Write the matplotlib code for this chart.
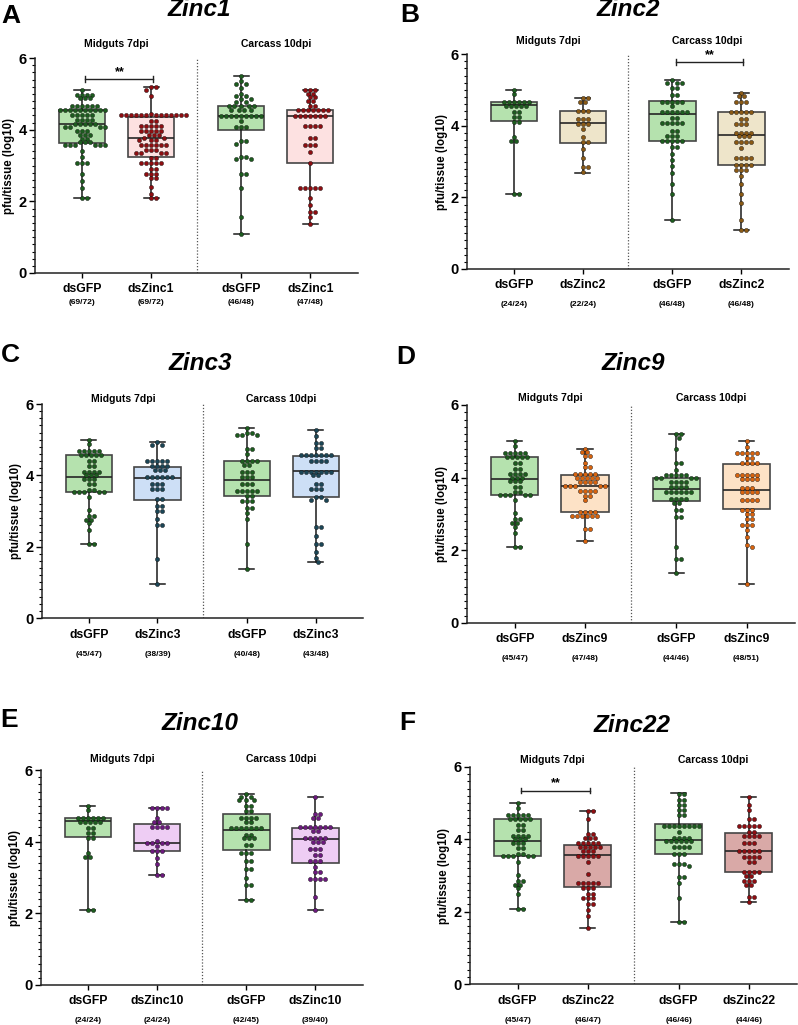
"""
Zinc knockdown panels: pfu/tissue box plots with dot overlay (A-F).
"""
import numpy as np
import matplotlib.pyplot as plt
from matplotlib.transforms import blended_transform_factory

plt.rcParams['font.family'] = ['Liberation Sans', 'DejaVu Sans']
plt.rcParams['font.weight'] = 'bold'

W, H = 798, 1025

# ---- point rows: (log10 pfu, number of dots) ----
# shared dsGFP controls
gfp_mid_45 = [(5.0, 1), (4.88, 1), (4.67, 5), (4.57, 5), (4.4, 2), (4.25, 2), (4.1, 4), (4.0, 3),
              (3.9, 3), (3.75, 2), (3.6, 2), (3.53, 5), (3.38, 1), (3.02, 1), (2.85, 2), (2.75, 2),
              (2.65, 1), (2.48, 1), (2.08, 2)]
gfp_mid_24 = [(5.0, 1), (4.88, 1), (4.67, 6), (4.56, 5), (4.38, 2), (4.23, 2), (4.1, 2), (3.68, 1),
              (3.57, 2), (2.08, 2)]

a_mid_gfp = [(5.12, 1), (4.97, 4), (4.87, 3), (4.67, 6), (4.56, 10), (4.4, 5), (4.28, 4), (4.17, 5),
             (4.08, 4), (3.95, 3), (3.85, 3), (3.75, 2), (3.65, 3), (3.56, 6), (3.4, 1), (3.25, 1),
             (3.08, 3), (2.77, 1), (2.57, 1), (2.37, 1), (2.08, 2)]
a_mid_kd = [(5.19, 2), (5.1, 1), (4.95, 1), (4.45, 1), (4.4, 13), (4.25, 2), (4.1, 5), (3.95, 5),
            (3.85, 3), (3.78, 2), (3.7, 3), (3.56, 6), (3.42, 3), (3.35, 4), (3.2, 2), (3.08, 5),
            (2.9, 2), (2.77, 3), (2.65, 2), (2.4, 1), (2.2, 1), (2.08, 2)]
a_car_gfp = [(5.49, 1), (5.35, 1), (5.28, 2), (5.15, 1), (5.0, 1), (4.93, 2), (4.85, 2), (4.78, 2),
             (4.67, 5), (4.56, 4), (4.38, 9), (4.25, 1), (4.08, 3), (3.68, 2), (3.6, 1), (3.25, 2),
             (3.18, 2), (2.77, 2), (2.37, 1), (1.55, 1), (1.08, 1)]
a_car_kd = [(5.1, 3), (5.0, 2), (4.9, 2), (4.8, 2), (4.67, 2), (4.56, 7), (4.38, 7), (4.1, 4),
            (3.78, 2), (3.56, 3), (3.38, 1), (3.08, 1), (2.37, 5), (2.08, 1), (1.9, 1), (1.7, 2),
            (1.57, 1), (1.38, 1)]

b_mid_kd = [(4.76, 2), (4.65, 2), (4.4, 3), (4.2, 3), (4.05, 3), (3.9, 1), (3.68, 1), (3.55, 2),
            (3.35, 1), (3.1, 1), (2.85, 2), (2.72, 1)]
b_car_gfp = [(5.27, 1), (5.2, 3), (5.05, 2), (4.85, 2), (4.67, 5), (4.55, 1), (4.38, 6), (4.22, 2),
             (4.08, 5), (3.85, 2), (3.7, 3), (3.57, 5), (3.4, 2), (3.22, 1), (3.05, 1), (2.87, 1),
             (2.68, 1), (2.37, 1), (2.08, 1), (1.37, 1)]
b_car_kd = [(4.92, 1), (4.82, 2), (4.67, 3), (4.38, 5), (4.2, 2), (4.05, 3), (3.8, 4), (3.7, 3),
            (3.55, 4), (3.38, 1), (3.1, 4), (2.9, 4), (2.75, 3), (2.6, 1), (2.37, 1), (2.1, 1),
            (1.85, 1), (1.37, 1), (1.08, 2)]

c_mid_kd = [(4.93, 1), (4.85, 2), (4.4, 5), (4.25, 4), (4.15, 3), (3.95, 6), (3.75, 3), (3.62, 3),
            (3.35, 2), (3.15, 2), (3.0, 2), (2.78, 1), (2.62, 2), (1.65, 1), (0.95, 1)]
c_car_gfp = [(5.33, 1), (5.2, 2), (5.12, 3), (4.75, 2), (4.6, 1), (4.4, 4), (4.3, 2), (4.1, 3),
             (3.95, 3), (3.75, 3), (3.57, 5), (3.42, 2), (3.28, 3), (3.08, 2), (2.95, 1), (2.78, 1),
             (2.08, 1), (1.37, 1)]
c_car_kd = [(5.27, 1), (5.1, 1), (4.9, 2), (4.78, 2), (4.57, 7), (4.4, 4), (4.1, 7), (4.0, 2),
            (3.75, 2), (3.62, 3), (3.38, 2), (3.3, 2), (2.55, 2), (2.3, 1), (2.08, 2), (1.85, 1),
            (1.68, 1), (1.57, 1)]

d_mid_kd = [(4.8, 1), (4.7, 2), (4.6, 2), (4.4, 1), (4.28, 2), (4.1, 5), (4.0, 5), (3.87, 4),
            (3.78, 5), (3.62, 4), (3.5, 2), (3.38, 1), (3.05, 4), (2.95, 6), (2.6, 2), (2.27, 1)]
d_car_gfp = [(5.19, 2), (5.08, 1), (4.78, 1), (4.4, 2), (4.2, 1), (4.07, 5), (4.0, 4), (3.88, 4),
             (3.75, 4), (3.6, 6), (3.4, 4), (3.3, 2), (3.1, 2), (2.93, 2), (2.1, 1), (1.75, 2),
             (1.38, 1)]
d_car_kd = [(5.0, 1), (4.85, 1), (4.67, 5), (4.55, 2), (4.4, 4), (4.08, 5), (3.95, 4), (3.72, 3),
            (3.6, 4), (3.38, 4), (3.12, 3), (3.0, 2), (2.85, 2), (2.7, 3), (2.55, 1), (2.38, 1),
            (2.15, 1), (2.08, 1), (1.08, 1)]

e_mid_kd = [(4.93, 4), (4.65, 1), (4.55, 2), (4.4, 4), (4.02, 1), (3.95, 4), (3.88, 1), (3.75, 3),
            (3.55, 1), (3.38, 1), (3.08, 2)]
e_car_gfp = [(5.32, 1), (5.25, 2), (5.15, 3), (5.0, 2), (4.85, 2), (4.67, 4), (4.55, 2), (4.38, 7),
             (4.2, 2), (4.1, 3), (3.9, 2), (3.68, 3), (3.45, 2), (3.25, 2), (3.0, 1), (2.78, 2),
             (2.37, 2)]
e_car_kd = [(5.24, 1), (4.78, 2), (4.67, 2), (4.4, 7), (4.3, 2), (4.1, 5), (4.0, 3), (3.8, 3),
            (3.62, 2), (3.45, 3), (3.3, 1), (3.15, 2), (2.95, 4), (2.45, 1), (2.08, 1)]

f_mid_kd = [(4.77, 2), (4.55, 1), (4.15, 2), (4.05, 3), (3.9, 5), (3.8, 5), (3.67, 3), (3.55, 5),
            (3.38, 1), (3.05, 1), (2.8, 5), (2.65, 3), (2.5, 2), (2.37, 3), (2.2, 2), (2.05, 1),
            (1.88, 1), (1.55, 1)]
f_car_gfp = [(5.26, 2), (5.1, 2), (4.95, 2), (4.8, 2), (4.67, 2), (4.38, 8), (4.2, 1), (4.05, 4),
             (3.95, 6), (3.8, 4), (3.6, 3), (3.32, 3), (3.25, 1), (2.95, 2), (2.8, 1), (2.37, 1),
             (1.72, 2)]
f_car_kd = [(5.17, 1), (4.95, 1), (4.8, 1), (4.57, 2), (4.38, 5), (4.2, 2), (4.08, 4), (3.9, 3),
            (3.67, 5), (3.52, 4), (3.38, 2), (3.1, 4), (3.0, 2), (2.85, 3), (2.75, 2), (2.4, 2),
            (2.27, 1)]

# ---- box stats: (min, q1, median, q3, max) ----
box_gfp_mid_45 = (2.08, 3.53, 3.95, 4.56, 5.0)
box_gfp_mid_24 = (2.08, 4.12, 4.58, 4.67, 5.0)
a_box = [(2.08, 3.63, 4.17, 4.56, 5.12), (2.08, 3.25, 3.78, 4.35, 5.2),
         (1.08, 4.0, 4.38, 4.67, 5.5), (1.37, 3.08, 4.38, 4.55, 5.1)]
b_box = [box_gfp_mid_24, (2.68, 3.53, 4.08, 4.42, 4.78),
         (1.38, 3.58, 4.32, 4.7, 5.28), (1.08, 2.9, 3.73, 4.38, 4.92)]
c_box = [box_gfp_mid_45, (0.95, 3.3, 3.92, 4.23, 4.93),
         (1.37, 3.43, 3.86, 4.4, 5.33), (1.56, 3.4, 4.12, 4.55, 5.27)]
d_box = [box_gfp_mid_45, (2.27, 3.06, 3.78, 4.07, 4.8),
         (1.38, 3.35, 3.7, 4.0, 5.19), (1.08, 3.13, 3.66, 4.38, 5.0)]
e_box = [box_gfp_mid_24, (3.08, 3.74, 3.95, 4.5, 4.93),
         (2.37, 3.78, 4.33, 4.78, 5.32), (2.08, 3.4, 4.08, 4.38, 5.24)]
f_box = [box_gfp_mid_45, (1.55, 2.68, 3.57, 3.83, 4.77),
         (1.72, 3.6, 3.97, 4.42, 5.27), (2.27, 3.1, 3.67, 4.17, 5.17)]

genes = ['Zinc1', 'Zinc2', 'Zinc3', 'Zinc9', 'Zinc10', 'Zinc22']
letters = ['A', 'B', 'C', 'D', 'E', 'F']
counts = [['(69/72)', '(69/72)', '(46/48)', '(47/48)'],
          ['(24/24)', '(22/24)', '(46/48)', '(46/48)'],
          ['(45/47)', '(38/39)', '(40/48)', '(43/48)'],
          ['(45/47)', '(47/48)', '(44/46)', '(48/51)'],
          ['(24/24)', '(24/24)', '(42/45)', '(39/40)'],
          ['(45/47)', '(46/47)', '(46/46)', '(44/46)']]
points = [[a_mid_gfp, a_mid_kd, a_car_gfp, a_car_kd],
          [gfp_mid_24, b_mid_kd, b_car_gfp, b_car_kd],
          [gfp_mid_45, c_mid_kd, c_car_gfp, c_car_kd],
          [gfp_mid_45, d_mid_kd, d_car_gfp, d_car_kd],
          [gfp_mid_24, e_mid_kd, e_car_gfp, e_car_kd],
          [gfp_mid_45, f_mid_kd, f_car_gfp, f_car_kd]]
boxes = [a_box, b_box, c_box, d_box, e_box, f_box]
# significance bars: (group i, group j, height) or None
signif = [(0, 1, 5.41), (2, 3, 5.77), None, None, None, (0, 1, 5.35)]

# ---- styling / layout ----
positions = [0.0, 1.0, 2.3, 3.3]
xlim = (-0.68, 3.99)
divider_x = 1.655
green_fill, green_dot = '#b5e2ae', '#1d5c1f'
kd_fill = ['#fde1e1', '#eee5ca', '#cddff6', '#fde2c6', '#eecdf4', '#d9a9a7']
kd_dot = ['#8e0e12', '#8a5a16', '#1c4656', '#d8640f', '#6c1b7e', '#8e0e12']

# axes boxes in pixels: left, top, right, bottom
ax_px = [(35, 58, 358, 273), (467, 54, 789, 269), (42, 404, 363, 618),
         (467, 405, 795, 623), (41, 770, 363, 985), (470, 767, 797, 984)]
title_px = [(199, 10), (628, 10), (200, 363), (633, 364), (200, 723), (632, 725)]
letter_px = [(11, 16), (410, 15), (10, 355), (406, 357), (9, 720), (407, 723)]
header_y = [1.065, 1.06, 1.025, 1.03, 1.05, 1.03]
count_off = [30, 35, 36, 35, 35, 36]


def swarm_offsets(vals, ypx, d, step):
    """Simple beeswarm in pixel space; returns x offsets in pixels."""
    order = np.argsort(-vals, kind='stable')
    cands = [0.0]
    for k in range(1, 120):
        cands += [k * step, -k * step]
    placed_x, placed_y = [], []
    out = np.zeros(len(vals))
    for i in order:
        y = vals[i] * ypx
        px = np.array(placed_x)
        py = np.array(placed_y)
        for c in cands:
            if len(px) == 0 or np.all((c - px) ** 2 + (y - py) ** 2 >= d * d):
                break
        placed_x.append(c)
        placed_y.append(y)
        out[i] = c
    return out


fig = plt.figure(figsize=(W / 100, H / 100), dpi=100)

for p in range(6):
    l, t, r, b = ax_px[p]
    ax = fig.add_axes([l / W, 1 - b / H, (r - l) / W, (b - t) / H])
    ax.set_xlim(*xlim)
    ax.set_ylim(0, 6)
    xpx = (r - l) / (xlim[1] - xlim[0])
    ypx = (b - t) / 6.0

    stats = [dict(whislo=s[0], q1=s[1], med=s[2], q3=s[3], whishi=s[4], fliers=[])
             for s in boxes[p]]
    bp = ax.bxp(stats, positions=positions, widths=0.67, capwidths=0.22,
                patch_artist=True, showfliers=False, manage_ticks=False,
                boxprops=dict(edgecolor='#454545', linewidth=1.2),
                medianprops=dict(color='#262626', linewidth=1.2),
                whiskerprops=dict(color='#1a1a1a', linewidth=1.1),
                capprops=dict(color='#1a1a1a', linewidth=1.1))
    fills = [green_fill, kd_fill[p], green_fill, kd_fill[p]]
    for patch, fc in zip(bp['boxes'], fills):
        patch.set_facecolor(fc)
        patch.set_zorder(1)

    dots = [green_dot, kd_dot[p], green_dot, kd_dot[p]]
    for g, rows in enumerate(points[p]):
        vals = np.repeat([v for v, n in rows], [n for v, n in rows]).astype(float)
        offs = swarm_offsets(vals, ypx, 4.2, 2.5) / xpx
        ax.scatter(positions[g] + offs, vals, s=9, color=dots[g],
                   edgecolors='#101010', linewidths=0.3, zorder=4, clip_on=False)

    ax.axvline(divider_x, color='#555555', linestyle=(0, (1, 1.5)), linewidth=0.9)

    # axes styling
    for side in ['top', 'right']:
        ax.spines[side].set_visible(False)
    for side in ['left', 'bottom']:
        ax.spines[side].set_linewidth(1.1)
        ax.spines[side].set_color('#222222')
    ax.set_yticks([0, 2, 4, 6])
    ax.set_yticks(np.arange(0, 6.01, 0.2), minor=True)
    ax.tick_params(axis='y', which='major', length=4.5, width=1.0, labelsize=10.5, pad=1.5)
    ax.tick_params(axis='y', which='minor', length=2.2, width=0.8)
    ax.set_xticks(positions)
    ax.set_xticklabels([])
    ax.tick_params(axis='x', length=3.8, width=1.0)
    ax.set_ylabel('pfu/tissue (log10)', fontsize=8.3, fontweight='bold')
    ax.yaxis.set_label_coords(-19.5 / (r - l), 0.5)

    tr = blended_transform_factory(ax.transData, ax.transAxes)
    names = ['dsGFP', 'ds' + genes[p], 'dsGFP', 'ds' + genes[p]]
    for g in range(4):
        ax.text(positions[g], -16.5 / (b - t), names[g], transform=tr, ha='center', va='center',
                fontsize=8.8, fontweight='bold')
        ax.text(positions[g], -count_off[p] / (b - t), counts[p][g], transform=tr, ha='center',
                va='center', fontsize=6, fontweight='bold')
    ax.text(0.5, header_y[p], 'Midguts 7dpi', transform=tr, ha='center', va='center',
            fontsize=7.5, fontweight='bold')
    ax.text(2.8, header_y[p], 'Carcass 10dpi', transform=tr, ha='center', va='center',
            fontsize=7.5, fontweight='bold')

    if signif[p] is not None:
        i, j, hy = signif[p]
        x0, x1 = positions[i] + 0.05, positions[j] + 0.03
        ax.plot([x0, x1], [hy, hy], color='#222222', lw=1.0, clip_on=False)
        ax.plot([x0, x0], [hy - 0.08, hy + 0.08], color='#222222', lw=1.0, clip_on=False)
        ax.plot([x1, x1], [hy - 0.08, hy + 0.08], color='#222222', lw=1.0, clip_on=False)
        ax.text((x0 + x1) / 2, hy + 0.03, '**', ha='center', va='bottom', fontsize=9,
                fontweight='bold', clip_on=False)

    tx, ty = title_px[p]
    fig.text(tx / W, 1 - ty / H, genes[p], ha='center', va='center', fontsize=17.5,
             fontweight='bold', fontstyle='italic')
    lx, ly = letter_px[p]
    fig.text(lx / W, 1 - ly / H, letters[p], ha='center', va='center', fontsize=19,
             fontweight='bold')

fig.savefig('out.png', dpi=100)
